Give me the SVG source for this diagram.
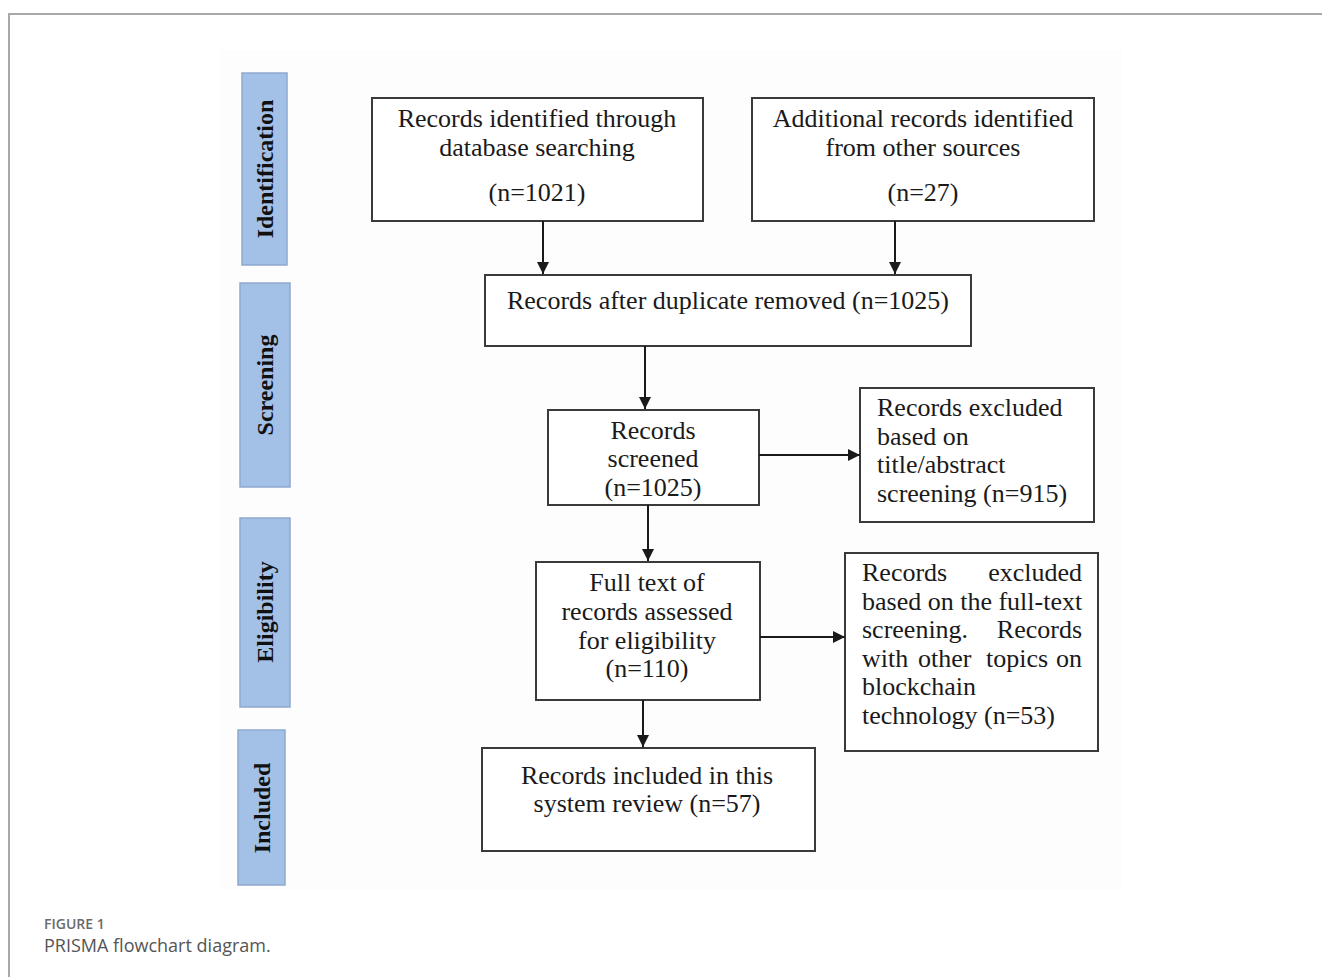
<svg xmlns="http://www.w3.org/2000/svg" width="1322" height="977" viewBox="0 0 1322 977">
<style>
.frame{stroke:#a8a8a8;stroke-width:2;fill:none}
.box{fill:#ffffff;stroke:#3a3a3a;stroke-width:2}
.phase{fill:#a3c0e6;stroke:#8ea9cf;stroke-width:1.5}
.t{font-family:"Liberation Serif","Times New Roman",serif;font-size:26px;fill:#1a1a1a}
.c{text-anchor:middle}
.r{text-anchor:end}
.ph{font-family:"Liberation Serif","Times New Roman",serif;font-size:24px;font-weight:bold;fill:#111;text-anchor:middle}
.conn{stroke:#1a1a1a;stroke-width:2;fill:none}
.cap1{font-family:"Open Sans","Noto Sans",sans-serif;font-size:14px;font-weight:600;fill:#6a6a6a}
.cap2{font-family:"Open Sans","Noto Sans",sans-serif;font-size:18px;fill:#555}
</style>
<defs>
<marker id="ah" viewBox="0 0 10 10" refX="10" refY="5" markerWidth="6" markerHeight="6" markerUnits="strokeWidth" orient="auto">
<path d="M0,0 L10,5 L0,10 z" fill="#1a1a1a"/>
</marker>
</defs>
<rect width="1322" height="977" fill="#ffffff"/>
<path class="frame" d="M9,977 L9,14 L1322,14"/>
<rect x="220" y="50" width="902" height="840" fill="#fdfdfd"/>

<g id="phase-identification"><rect class="phase" x="242" y="73" width="45" height="192"/><text class="ph" transform="translate(273,169) rotate(-90)">Identification</text></g>
<g id="phase-screening"><rect class="phase" x="240" y="283" width="50" height="204"/><text class="ph" transform="translate(273,385) rotate(-90)">Screening</text></g>
<g id="phase-eligibility"><rect class="phase" x="240" y="518" width="50" height="189"/><text class="ph" transform="translate(273,612) rotate(-90)">Eligibility</text></g>
<g id="phase-included"><rect class="phase" x="238" y="730" width="47" height="155"/><text class="ph" transform="translate(270,808) rotate(-90)">Included</text></g>

<g id="n-database"><rect class="box" x="372" y="98" width="331" height="123"/>
<text class="t c" x="537" y="127">Records identified through</text>
<text class="t c" x="537" y="156">database searching</text>
<text class="t c" x="537" y="201">(n=1021)</text></g>

<g id="n-other"><rect class="box" x="752" y="98" width="342" height="123"/>
<text class="t c" x="923" y="127">Additional records identified</text>
<text class="t c" x="923" y="156">from other sources</text>
<text class="t c" x="923" y="201">(n=27)</text></g>

<g id="n-dedup"><rect class="box" x="485" y="275" width="486" height="71"/>
<text class="t c" x="728" y="309">Records after duplicate removed (n=1025)</text></g>

<g id="n-screened"><rect class="box" x="548" y="410" width="211" height="95"/>
<text class="t c" x="653" y="439">Records</text>
<text class="t c" x="653" y="467">screened</text>
<text class="t c" x="653" y="496">(n=1025)</text></g>

<g id="n-excl1"><rect class="box" x="860" y="388" width="234" height="134"/>
<text class="t" x="877" y="416">Records excluded</text>
<text class="t" x="877" y="445">based on</text>
<text class="t" x="877" y="473">title/abstract</text>
<text class="t" x="877" y="502">screening (n=915)</text></g>

<g id="n-excl2"><rect class="box" x="845" y="553" width="253" height="198"/>
<text class="t" x="862" y="581">Records</text><text class="t r" x="1082" y="581">excluded</text>
<text class="t" x="862" y="610">based on the full-text</text>
<text class="t" x="862" y="638">screening.</text><text class="t r" x="1082" y="638">Records</text>
<text class="t" x="862" y="667">with</text><text class="t" x="918" y="667">other</text><text class="t" x="986" y="667">topics</text><text class="t r" x="1082" y="667">on</text>
<text class="t" x="862" y="695">blockchain</text>
<text class="t" x="862" y="724">technology (n=53)</text></g>

<g id="n-fulltext"><rect class="box" x="536" y="562" width="224" height="138"/>
<text class="t c" x="647" y="591">Full text of</text>
<text class="t c" x="647" y="620">records assessed</text>
<text class="t c" x="647" y="649">for eligibility</text>
<text class="t c" x="647" y="677">(n=110)</text></g>

<g id="n-included"><rect class="box" x="482" y="748" width="333" height="103"/>
<text class="t c" x="647" y="784">Records included in this</text>
<text class="t c" x="647" y="812">system review (n=57)</text></g>

<g id="connectors">
<line class="conn" x1="543" y1="221" x2="543" y2="274" marker-end="url(#ah)"/>
<line class="conn" x1="895" y1="221" x2="895" y2="274" marker-end="url(#ah)"/>
<line class="conn" x1="645" y1="346" x2="645" y2="409" marker-end="url(#ah)"/>
<line class="conn" x1="759" y1="455" x2="860" y2="455" marker-end="url(#ah)"/>
<line class="conn" x1="648" y1="505" x2="648" y2="561" marker-end="url(#ah)"/>
<line class="conn" x1="760" y1="637" x2="845" y2="637" marker-end="url(#ah)"/>
<line class="conn" x1="643" y1="700" x2="643" y2="747" marker-end="url(#ah)"/>
</g>

<text class="cap1" x="44" y="929">FIGURE 1</text>
<text class="cap2" x="44" y="952">PRISMA flowchart diagram.</text>
</svg>
